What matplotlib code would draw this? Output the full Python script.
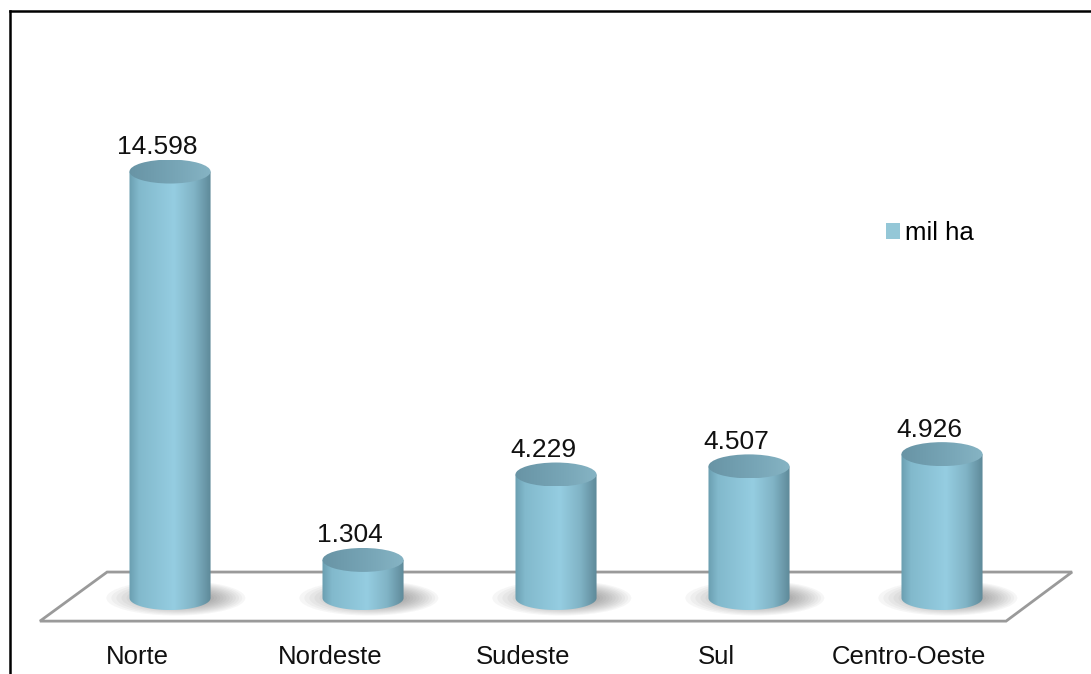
import numpy as np
import matplotlib.pyplot as plt
from matplotlib.patches import Ellipse, Polygon, PathPatch, Patch
from matplotlib.path import Path
from matplotlib.lines import Line2D
from matplotlib.colors import LinearSegmentedColormap

# área por região (mil ha)
regions = ['Norte', 'Nordeste', 'Sudeste', 'Sul', 'Centro-Oeste']
area_mil_ha = [14.598, 1.304, 4.229, 4.507, 4.926]
legend_label = 'mil ha'

plt.rcParams['font.family'] = ['Liberation Sans', 'DejaVu Sans']

body_cmap = LinearSegmentedColormap.from_list(
    'body', [(0.0, '#6a9eb0'), (0.12, '#82b9cc'), (0.55, '#95cde1'),
             (0.8, '#80b3c5'), (1.0, '#5e8999')])
top_cmap = LinearSegmentedColormap.from_list(
    'top', [(0.0, '#6894a5'), (0.6, '#78a6b7'), (1.0, '#86b4c4')])

fig = plt.figure(figsize=(10.91, 6.74), dpi=100)
ax = fig.add_axes([0, 0, 1, 1])
ax.set_xlim(-0.881, 4.772)
ax.set_ylim(-2.60, 20.47)
ax.axis('off')

half_w = 0.21    # cylinder radius (x units)
cap_h = 0.41     # ellipse half height (y units)

# floor
floor = Polygon([(-0.326, 0.89), (4.674, 0.89), (4.332, -0.79), (-0.674, -0.79)],
                closed=True, facecolor='white', edgecolor='#9a9a9a', lw=2, zorder=1)
ax.add_patch(floor)

grad = np.linspace(0, 1, 256).reshape(1, -1)
t = np.linspace(np.pi, 2 * np.pi, 60)

for i, v in enumerate(area_mil_ha):
    # soft shadow on the floor, a bit to the right
    for k in range(16):
        f = 1 - k / 17
        ax.add_patch(Ellipse((i + 0.03 + 0.08 * k / 16, 0.0), 0.72 * f, 1.2 * f,
                             facecolor='#404040', edgecolor='none',
                             alpha=0.045, zorder=2))

    # body: rectangle plus the front half of the base ellipse
    xs = i + half_w * np.cos(t)
    ys = cap_h * np.sin(t)
    verts = list(zip(xs, ys)) + [(i + half_w, v), (i - half_w, v), (xs[0], ys[0])]
    body = PathPatch(Path(verts, closed=True), facecolor='none', edgecolor='none', zorder=3)
    ax.add_patch(body)
    im = ax.imshow(grad, cmap=body_cmap, aspect='auto', zorder=3,
                   extent=[i - half_w, i + half_w, -cap_h, v])
    im.set_clip_path(body)

    # top cap
    cap = Ellipse((i, v), 2 * half_w, 2 * cap_h, facecolor='none', edgecolor='none', zorder=4)
    ax.add_patch(cap)
    im2 = ax.imshow(grad, cmap=top_cmap, aspect='auto', zorder=4,
                    extent=[i - half_w, i + half_w, v - cap_h, v + cap_h])
    im2.set_clip_path(cap)

    ax.text(i - 0.067, v + 0.84, f'{v:.3f}', ha='center', va='center',
            fontsize=19, color='#111111', zorder=5)
    ax.text(i - 0.17, -2.02, regions[i], ha='center', va='center',
            fontsize=18.5, color='#111111')

ax.legend(handles=[Patch(facecolor='#94c7d7', edgecolor='none')], labels=[legend_label],
          loc='center left', bbox_to_anchor=(886 / 1091, 1 - 233 / 674),
          bbox_transform=fig.transFigure, frameon=False, fontsize=18.5,
          handlelength=0.55, handleheight=0.55, handletextpad=0.2,
          borderpad=0, borderaxespad=0)

# outer frame (top and left edges)
fig.add_artist(Line2D([10 / 1091, 1], [1 - 10.5 / 674] * 2,
                      transform=fig.transFigure, color='black', lw=1.8))
fig.add_artist(Line2D([10 / 1091] * 2, [0, 1 - 10.5 / 674],
                      transform=fig.transFigure, color='black', lw=1.8))

fig.savefig('out.png', dpi=100)
